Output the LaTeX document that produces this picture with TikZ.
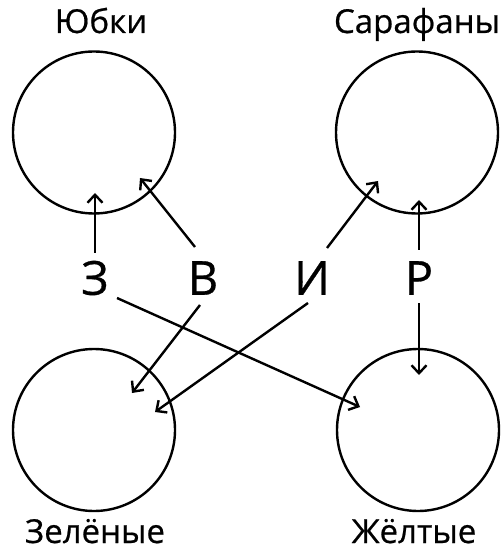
\documentclass[tikz,border=0pt]{standalone}
\usepackage{fontspec}
\setmainfont{Open Sans}[FakeBold=0.6]
\usetikzlibrary{calc,arrows.meta}
\begin{document}
\begin{tikzpicture}[x=.5pt,y=-.5pt,
  set/.style={circle,draw,line width=1.2pt,minimum size=81pt,inner sep=0},
  letter/.style={inner sep=0,font=\fontsize{23.5}{23.5}\selectfont},
  title/.style={anchor=base,inner sep=0,font=\fontsize{16.5}{16.5}\selectfont},
  arr/.style={line width=1.2pt,-{Straight Barb[length=4pt,width=7.5pt]}}]
  \useasboundingbox (0,0) rectangle (502,550);
  % sets
  \node[set] (yubki) at (94,132.5) {}; \node[set] (sarafany) at (417,132.5) {};
  \node[set] (zelenye) at (94,430) {}; \node[set] (zheltye) at (418,430) {};
  \node[title] (yubkiT) at (101,33) {Юбки}; \node[title] (sarafanyT) at (417,33) {Сарафаны};
  \node[title] (zelenyeT) at (95,543) {Зелёные}; \node[title] (zheltyeT) at (414,543) {Жёлтые};
  % letters
  \node[letter] (z) at (95,278) {З}; \node[letter] (v) at (203,278) {В};
  \node[letter] (i) at (312,278) {И}; \node[letter] (r) at (419,278) {Р};
  % arrows up
  \draw[arr] ($(z)+(0,-25)$) -- ($(yubki)+(1,60.5)$); \draw[arr] ($(v)+(-8,-31)$) -- ($(yubki)+(46,45.5)$);
  \draw[arr] ($(i)+(15,-30)$) -- ($(sarafany)+(-39,48.5)$); \draw[arr] ($(r)+(0,-28)$) -- ($(sarafany)+(2,67.5)$);
  % arrows down
  \draw[arr] ($(z)+(22,20)$) -- ($(zheltye)+(-58,-23)$); \draw[arr] ($(v)+(-3,27)$) -- ($(zelenye)+(38,-37)$);
  \draw[arr] ($(i)+(-4,25)$) -- ($(zelenye)+(61,-18)$); \draw[arr] ($(r)+(0,25)$) -- ($(zheltye)+(1,-55)$);
\end{tikzpicture}
\end{document}
